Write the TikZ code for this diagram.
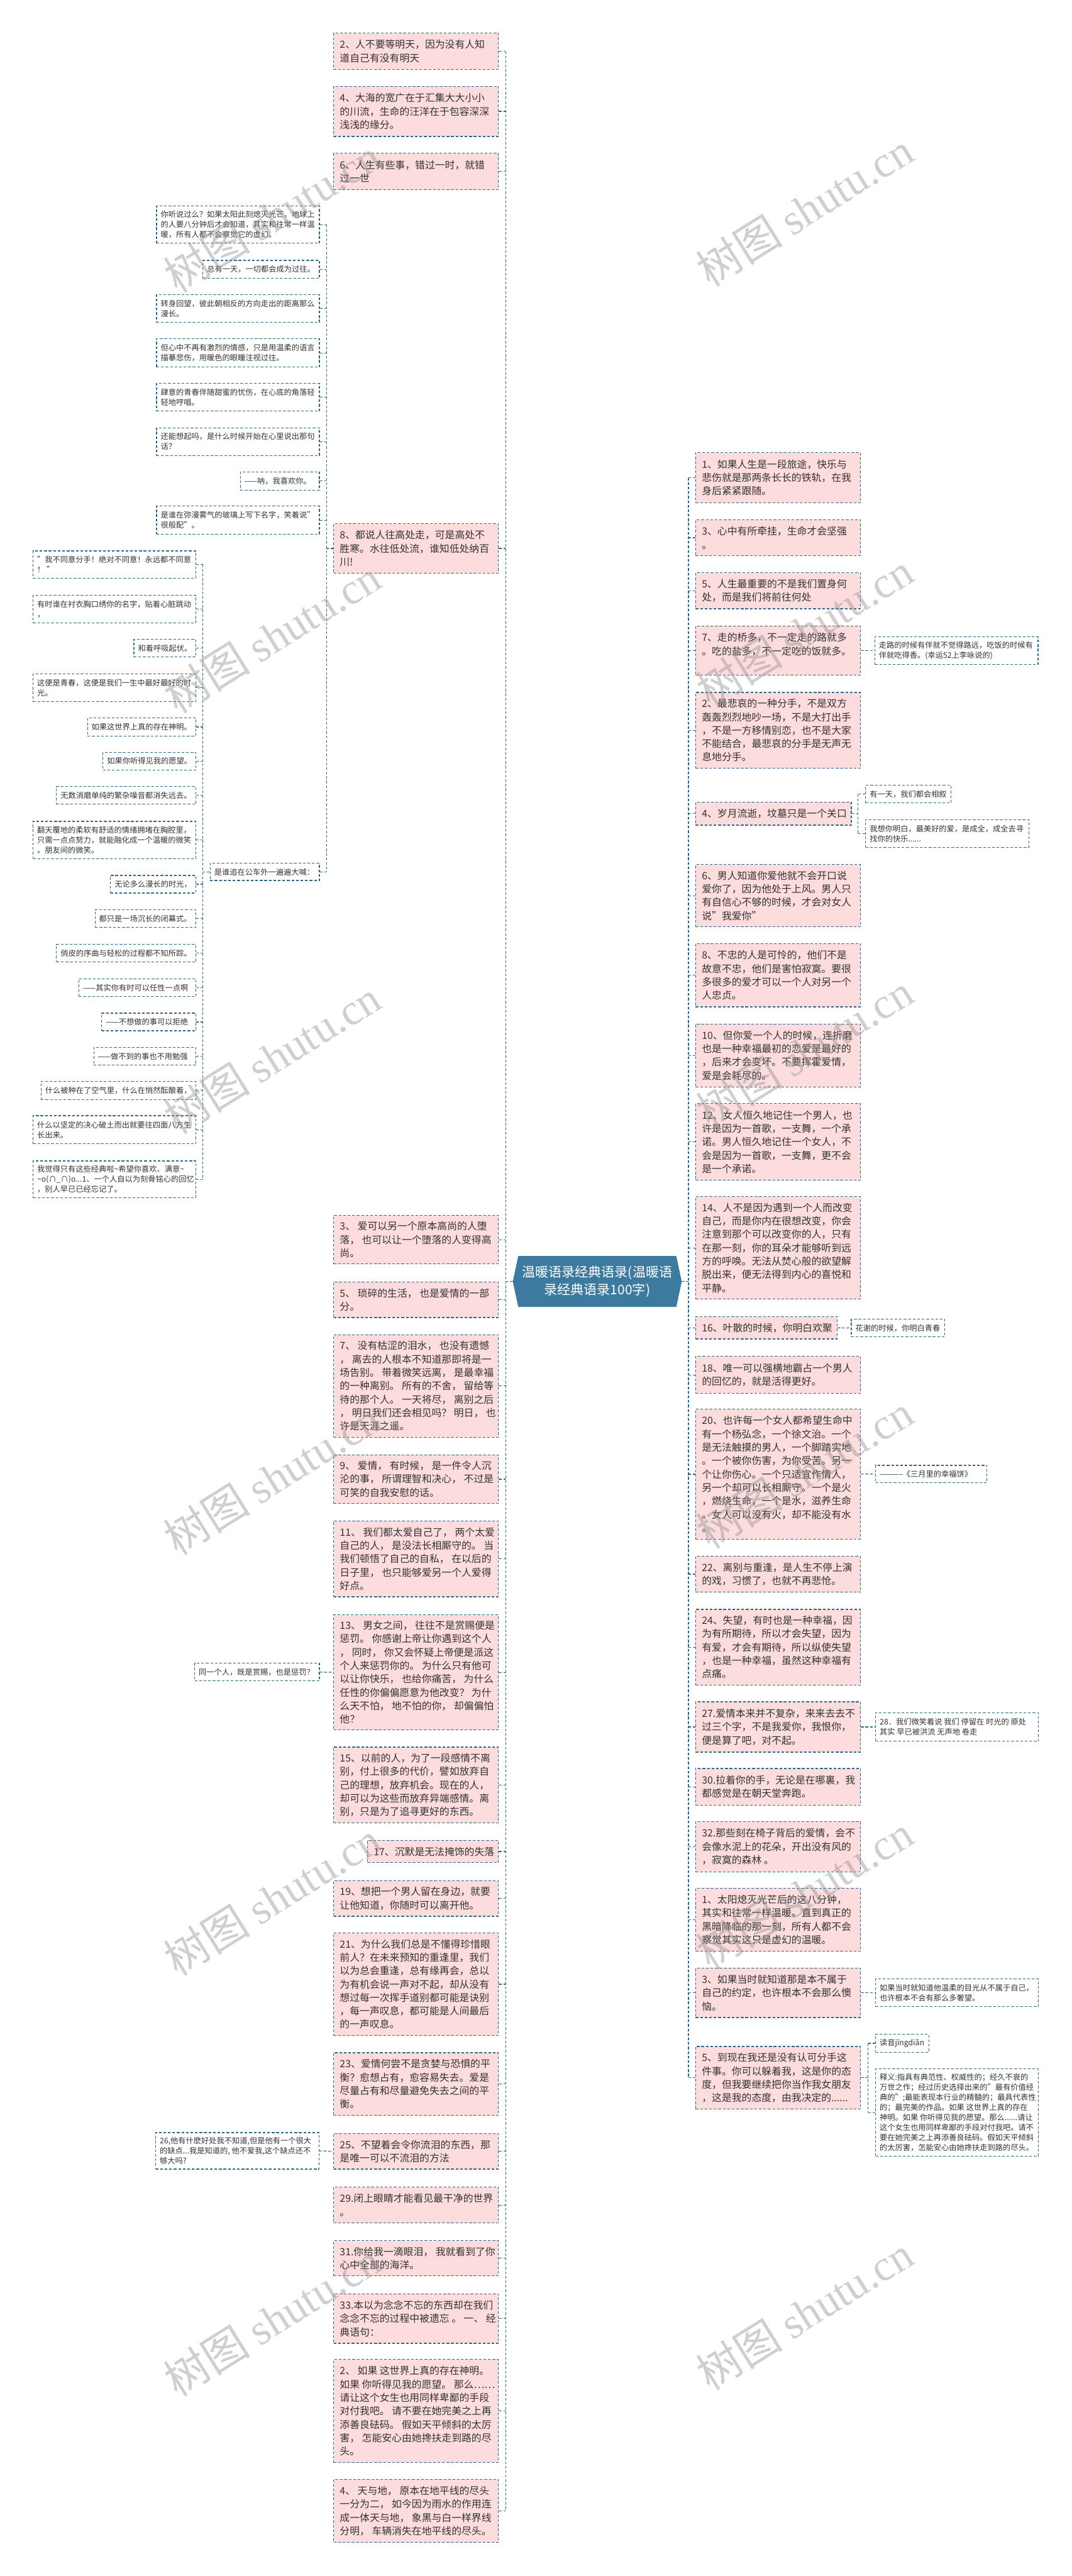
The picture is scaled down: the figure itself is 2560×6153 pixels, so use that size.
\documentclass[tikz,border=0pt]{standalone}
\usepackage{fontspec}
\setmainfont{Noto Sans CJK SC}
\newfontfamily\wmserif{Liberation Serif}
\usetikzlibrary{fit,calc}
\definecolor{bordc}{HTML}{2E698C}
\definecolor{pinkf}{HTML}{FCDCDC}
\definecolor{cblue}{HTML}{3D7AA0}
\definecolor{wmgray}{HTML}{969696}
\tikzset{
 dsh/.style={draw=bordc, line width=0.45pt, dash pattern=on 1.6pt off 1.1pt},
 pinkbox/.style={dsh, fill=pinkf, inner sep=0pt, rectangle},
 smallbox/.style={dsh, fill=white, inner sep=0pt, rectangle},
 ptext/.style={inner sep=0pt, align=left, anchor=west, text=black!80, font=\fontsize{5.95pt}{8pt}\selectfont},
 stext/.style={inner sep=0pt, align=left, anchor=west, text=black!80, font=\fontsize{4.6pt}{6pt}\selectfont},
 ctext/.style={inner sep=0pt, align=center, text=white, font=\fontsize{7.9pt}{10.5pt}\selectfont},
 conn/.style={dsh},
 wm/.style={text=wmgray, opacity=0.45, rotate=32, inner sep=0pt, font=\fontsize{26pt}{26pt}\selectfont},
}
\newcommand\mkP[6]{\node[pinkbox, fit={(#2,#3) (#4,#5)}] (#1) {};
  \node[ptext] (#1t) at ([xshift=3.75pt]#1.west) {#6};}
\newcommand\mkS[6]{\node[smallbox, fit={(#2,#3) (#4,#5)}] (#1) {};
  \node[stext] (#1t) at ([xshift=2.5pt]#1.west) {#6};}
\begin{document}
\begin{tikzpicture}[x=0.25pt,y=-0.25pt]
\useasboundingbox (0,0) rectangle (2560,6153);
\fill[white] (0,0) rectangle (2560,6153);
\coordinate (LT) at (1208,0);
\coordinate (RT) at (1645,0);
\coordinate (ST) at (780,0);
\coordinate (TT) at (485,0);
\coordinate (R4T) at (2050,0);
\coordinate (R5T) at (2074,0);

% center
\node[inner sep=0pt, fit={(1226,3001) (1628,3121)}] (C) {};
\fill[cblue] ($(C.north west)+(13,0)$) -- ($(C.north east)+(-13,0)$) -- (C.east) -- ($(C.south east)+(-13,0)$) -- ($(C.south west)+(13,0)$) -- (C.west) -- cycle;
\node[ctext] (Ct) at (C.center) {温暖语录经典语录(温暖语\\录经典语录100字)};

% left pink column
\mkP{L2}{797}{79}{1191}{166}{2、人不要等明天，因为没有人知\\道自己有没有明天}
\mkP{L4}{797}{206}{1191}{326}{4、大海的宽广在于汇集大大小小\\的川流，生命的汪洋在于包容深深\\浅浅的缘分。}
\mkP{L6}{797}{366}{1191}{453}{6、人生有些事，错过一时，就错\\过一世}
\mkP{L8}{797}{1251}{1191}{1369}{8、都说人往高处走，可是高处不\\胜寒。水往低处流，谁知低处纳百\\川!}
\mkP{L3}{797}{2903}{1191}{3019}{3、 爱可以另一个原本高尚的人堕\\落， 也可以让一个堕落的人变得高\\尚。}
\mkP{L5}{797}{3062}{1191}{3147}{5、 琐碎的生活， 也是爱情的一部\\分。}
\mkP{L7}{797}{3188}{1191}{3433}{7、 没有枯涩的泪水， 也没有遗憾\\， 离去的人根本不知道那即将是一\\场告别。 带着微笑远离， 是最幸福\\的一种离别。 所有的不舍， 留给等\\待的那个人。 一天将尽， 离别之后\\， 明日我们还会相见吗？ 明日， 也\\许是天涯之遥。}
\mkP{L9}{797}{3475}{1191}{3591}{9、 爱情， 有时候， 是一件令人沉\\沦的事， 所谓理智和决心， 不过是\\可笑的自我安慰的话。}
\mkP{L11}{797}{3633}{1191}{3814}{11、 我们都太爱自己了， 两个太爱\\自己的人， 是没法长相厮守的。 当\\我们顿悟了自己的自私， 在以后的\\日子里， 也只能够爱另一个人爱得\\好点。}
\mkP{L13}{797}{3857}{1191}{4132}{13、 男女之间， 往往不是赏赐便是\\惩罚。 你感谢上帝让你遇到这个人\\， 同时， 你又会怀疑上帝便是派这\\个人来惩罚你的。 为什么只有他可\\以让你快乐， 也给你痛苦， 为什么\\任性的你偏偏愿意为他改变？ 为什\\么天不怕， 地不怕的你， 却偏偏怕\\他？}
\mkP{L15}{797}{4173}{1191}{4354}{15、以前的人，为了一段感情不离\\别，付上很多的代价，譬如放弃自\\己的理想，放弃机会。现在的人，\\却可以为这些而放弃异端感情。离\\别，只是为了追寻更好的东西。}
\mkP{L17}{878}{4396}{1191}{4449}{17、沉默是无法掩饰的失落}
\mkP{L19}{797}{4492}{1191}{4577}{19、想把一个男人留在身边，就要\\让他知道，你随时可以离开他。}
\mkP{L21}{797}{4617}{1191}{4862}{21、为什么我们总是不懂得珍惜眼\\前人？在未来预知的重逢里，我们\\以为总会重逢，总有缘再会，总以\\为有机会说一声对不起，却从没有\\想过每一次挥手道别都可能是诀别\\，每一声叹息，都可能是人间最后\\的一声叹息。}
\mkP{L23}{797}{4903}{1191}{5053}{23、爱情何尝不是贪婪与恐惧的平\\衡？愈想占有，愈容易失去。爱是\\尽量占有和尽量避免失去之间的平\\衡。}
\mkP{L25}{797}{5096}{1191}{5181}{25、不望着会令你流泪的东西，那\\是唯一可以不流泪的方法}
\mkP{L29}{797}{5224}{1191}{5310}{29.闭上眼睛才能看见最干净的世界\\。}
\mkP{L31}{797}{5352}{1191}{5436}{31.你给我一滴眼泪， 我就看到了你\\心中全部的海洋。}
\mkP{L33}{797}{5479}{1191}{5597}{33.本以为念念不忘的东西却在我们\\念念不忘的过程中被遗忘 。 一、 经\\典语句：}
\mkP{L2b}{797}{5636}{1191}{5882}{2、 如果 这世界上真的存在神明。\\如果 你听得见我的愿望。 那么……\\请让这个女生也用同样卑鄙的手段\\对付我吧。 请不要在她完美之上再\\添善良砝码。 假如天平倾斜的太厉\\害， 怎能安心由她搀扶走到路的尽\\头。}
\mkP{L4b}{797}{5922}{1191}{6073}{4、 天与地， 原本在地平线的尽头\\一分为二， 如今因为雨水的作用连\\成一体天与地， 象黑与白一样界线\\分明， 车辆消失在地平线的尽头。}

% L8 group
\mkS{S1}{374}{492}{763}{581}{你听说过么？如果太阳此刻熄灭光芒，地球上\\的人要八分钟后才会知道，其实和往常一样温\\暖，所有人都不会察觉它的虚幻。}
\mkS{S2}{485}{622}{763}{665}{总有一天，一切都会成为过往。}
\mkS{S3}{374}{704}{763}{770}{转身回望，彼此朝相反的方向走出的距离那么\\漫长。}
\mkS{S4}{374}{809}{763}{877}{但心中不再有激烈的情感，只是用温柔的语言\\描摹悲伤，用暖色的眼瞳注视过往。}
\mkS{S5}{374}{916}{763}{982}{肆意的青春伴随甜蜜的忧伤，在心底的角落轻\\轻地哼唱。}
\mkS{S6}{374}{1022}{763}{1088}{还能想起吗，是什么时候开始在心里说出那句\\话？}
\mkS{S7}{574}{1127}{763}{1171}{——呐，我喜欢你。}
\mkS{S8}{374}{1209}{763}{1276}{是谁在弥漫雾气的玻璃上写下名字，笑着说"\\很般配"。}
\mkS{S9}{502}{2062}{763}{2103}{是谁追在公车外一遍遍大喊：}

% S9 group
\mkS{T1}{79}{1316}{468}{1381}{"我不同意分手！绝对不同意！永远都不同意\\！ "}
\mkS{T2}{79}{1422}{468}{1488}{有时谁在衬衣胸口绣你的名字，贴着心脏跳动\\，}
\mkS{T3}{320}{1527}{468}{1569}{和着呼吸起伏。}
\mkS{T4}{79}{1610}{468}{1676}{这便是青春，这便是我们一生中最好最好的时\\光。}
\mkS{T5}{209}{1715}{468}{1758}{如果这世界上真的存在神明。}
\mkS{T6}{246}{1797}{468}{1839}{如果你听得见我的愿望。}
\mkS{T7}{135}{1879}{468}{1921}{无数消磨单纯的繁杂噪音都消失远去。}
\mkS{T8}{79}{1962}{468}{2051}{翻天覆地的柔软有舒适的情绪拥堵在胸腔里，\\只需一点点努力，就能融化成一个温暖的微笑\\。朋友间的微笑。}
\mkS{T9}{264}{2091}{468}{2133}{无论多么漫长的时光，}
\mkS{T10}{227}{2173}{468}{2215}{都只是一场沉长的闭幕式。}
\mkS{T11}{135}{2256}{468}{2298}{俏皮的序曲与轻松的过程都不知所踪。}
\mkS{T12}{188}{2338}{468}{2380}{——其实你有时可以任性一点啊}
\mkS{T13}{243}{2420}{468}{2462}{——不想做的事可以拒绝}
\mkS{T14}{224}{2502}{468}{2544}{——做不到的事也不用勉强}
\mkS{T15}{98}{2583}{468}{2626}{什么被种在了空气里，什么在悄然酝酿着，}
\mkS{T16}{79}{2665}{468}{2732}{什么以坚定的决心破土而出就要往四面八方生\\长出来。}
\mkS{T17}{79}{2773}{468}{2861}{我觉得只有这些经典啦\textasciitilde 希望你喜欢、满意\textasciitilde\\\textasciitilde o(∩\_∩)o...1、一个人自以为刻骨铭心的回忆\\，别人早已已经忘记了。}

\mkS{U13}{465}{3973}{763}{4015}{同一个人，既是赏赐，也是惩罚？}
\mkS{U25}{372}{5094}{762}{5181}{26,他有什麽好处我不知道,但是他有一个很大\\的缺点...我是知道的, 他不爱我,这个缺点还不\\够大吗?}

% right pink column
\mkP{R1}{1662}{1081}{2056}{1201}{1、如果人生是一段旅途，快乐与\\悲伤就是那两条长长的铁轨，在我\\身后紧紧跟随。}
\mkP{R3}{1662}{1242}{2056}{1327}{3、心中有所牵挂，生命才会坚强\\。}
\mkP{R5}{1662}{1368}{2056}{1454}{5、人生最重要的不是我们置身何\\处，而是我们将前往何处}
\mkP{R7}{1662}{1495}{2056}{1613}{7、走的桥多，不一定走的路就多\\。吃的盐多，不一定吃的饭就多。\\\mbox{}}
\mkP{R2}{1662}{1654}{2056}{1835}{2、最悲哀的一种分手，不是双方\\轰轰烈烈地吵一场，不是大打出手\\，不是一方移情别恋，也不是大家\\不能结合，最悲哀的分手是无声无\\息地分手。}
\mkP{R4}{1662}{1916}{2034}{1971}{4、岁月流逝，坟墓只是一个关口}
\mkP{R6}{1662}{2065}{2056}{2214}{6、男人知道你爱他就不会开口说\\爱你了，因为他处于上风。男人只\\有自信心不够的时候，才会对女人\\说"我爱你"}
\mkP{R8}{1662}{2254}{2056}{2405}{8、不忠的人是可怜的，他们不是\\故意不忠，他们是害怕寂寞。要很\\多很多的爱才可以一个人对另一个\\人忠贞。}
\mkP{R10}{1662}{2446}{2056}{2596}{10、但你爱一个人的时候，连折磨\\也是一种幸福最初的恋爱是最好的\\，后来才会变坏。不要挥霍爱情，\\爱是会耗尽的。}
\mkP{R12}{1662}{2636}{2056}{2819}{12、女人恒久地记住一个男人，也\\许是因为一首歌，一支舞，一个承\\诺。男人恒久地记住一个女人，不\\会是因为一首歌，一支舞，更不会\\是一个承诺。}
\mkP{R14}{1662}{2858}{2056}{3103}{14、人不是因为遇到一个人而改变\\自己，而是你内在很想改变，你会\\注意到那个可以改变你的人，只有\\在那一刻，你的耳朵才能够听到远\\方的呼唤。无法从焚心般的欲望解\\脱出来，便无法得到内心的喜悦和\\平静。}
\mkP{R16}{1662}{3145}{2000}{3198}{16、叶散的时候，你明白欢聚}
\mkP{R18}{1662}{3240}{2056}{3328}{18、唯一可以强横地霸占一个男人\\的回忆的，就是活得更好。}
\mkP{R20}{1662}{3366}{2056}{3676}{20、也许每一个女人都希望生命中\\有一个杨弘念，一个徐文治。一个\\是无法触摸的男人，一个脚踏实地\\。一个被你伤害，为你受苦。另一\\个让你伤心。一个只适宜作情人，\\另一个却可以长相厮守。一个是火\\，燃烧生命，一个是水，滋养生命\\。女人可以没有火，却不能没有水\\。}
\mkP{R22}{1662}{3717}{2056}{3803}{22、离别与重逢，是人生不停上演\\的戏，习惯了，也就不再悲怆。}
\mkP{R24}{1662}{3844}{2056}{4025}{24、失望，有时也是一种幸福，因\\为有所期待，所以才会失望，因为\\有爱，才会有期待，所以纵使失望\\，也是一种幸福，虽然这种幸福有\\点痛。}
\mkP{R27}{1662}{4065}{2056}{4185}{27.爱情本来并不复杂，来来去去不\\过三个字，不是我爱你，我恨你，\\便是算了吧，对不起。}
\mkP{R30}{1662}{4224}{2056}{4312}{30.拉着你的手，无论是在哪裏，我\\都感觉是在朝天堂奔跑。}
\mkP{R32}{1662}{4351}{2056}{4471}{32.那些刻在椅子背后的爱情，会不\\会像水泥上的花朵，开出没有风的\\，寂寞的森林 。}
\mkP{R1b}{1662}{4510}{2056}{4661}{1、太阳熄灭光芒后的这八分钟，\\其实和往常一样温暖。直到真正的\\黑暗降临的那一刻，所有人都不会\\察觉其实这只是虚幻的温暖。}
\mkP{R3b}{1662}{4701}{2056}{4819}{3、如果当时就知道那是本不属于\\自己的约定，也许根本不会那么懊\\恼。}
\mkP{R5b}{1662}{4888}{2056}{5038}{5、到现在我还是没有认可分手这\\件事。你可以躲着我，这是你的态\\度，但我要继续把你当作我女朋友\\，这是我的态度，由我决定的......}

% right small nodes
\mkS{V7}{2090}{1521}{2480}{1587}{走路的时候有伴就不觉得路远，吃饭的时候有\\伴就吃得香。(幸运52上李咏说的)}
\mkS{V4a}{2068}{1876}{2272}{1918}{有一天，我们都会相叙}
\mkS{V4b}{2068}{1958}{2458}{2024}{我想你明白，最美好的爱，是成全，成全去寻\\找你的快乐......}
\mkS{V16}{2034}{3151}{2257}{3193}{花谢的时候，你明白青春}
\mkS{V20}{2092}{3500}{2358}{3541}{-----------《三月里的幸福饼》}
\mkS{V27}{2092}{4091}{2481}{4159}{28．我们微笑着说 我们 停留在 时光的 原处\\其实 早已被洪流 无声地 卷走}
\mkS{V3b}{2092}{4727}{2481}{4793}{如果当时就知道他温柔的目光从不属于自己，\\也许根本不会有那么多奢望。}
\mkS{V5a}{2092}{4859}{2219}{4902}{读音jīngdiǎn}
\mkS{V5b}{2092}{4942}{2481}{5150}{释义:指具有典范性、权威性的；经久不衰的\\万世之作；经过历史选择出来的"最有价值经\\典的";最能表现本行业的精髓的；最具代表性\\的；最完美的作品。如果 这世界上真的存在\\神明。如果 你听得见我的愿望。那么......请让\\这个女生也用同样卑鄙的手段对付我吧。请不\\要在她完美之上再添善良砝码。假如天平倾斜\\的太厉害，怎能安心由她搀扶走到路的尽头。}

% connectors: left trunk
\foreach \n in {L2,L4,L6,L8,L3,L5,L7,L9,L11,L13,L15,L17,L19,L21,L23,L25,L29,L31,L33,L2b,L4b}
  \draw[conn] (\n.east) -- (\n.east -| LT);
\draw[conn] (L2.east -| LT) -- (L4b.east -| LT);
\draw[conn] (C.west) -- (C.west -| LT);
% right trunk
\foreach \n in {R1,R3,R5,R7,R2,R4,R6,R8,R10,R12,R14,R16,R18,R20,R22,R24,R27,R30,R32,R1b,R3b,R5b}
  \draw[conn] (\n.west) -- (\n.west -| RT);
\draw[conn] (R1.west -| RT) -- (R5b.west -| RT);
\draw[conn] (C.east) -- (C.east -| RT);
% L8 group
\foreach \n in {S1,S2,S3,S4,S5,S6,S7,S8,S9}
  \draw[conn] (\n.east) -- (\n.east -| ST);
\draw[conn] (L8.west) -- (L8.west -| ST);
\draw[conn] (S1.east -| ST) -- (S9.east -| ST);
% S9 group
\foreach \n in {T1,T2,T3,T4,T5,T6,T7,T8,T9,T10,T11,T12,T13,T14,T15,T16,T17}
  \draw[conn] (\n.east) -- (\n.east -| TT);
\draw[conn] (S9.west) -- (S9.west -| TT);
\draw[conn] (T1.east -| TT) -- (T17.east -| TT);
% single children
\draw[conn] (U13.east) -- (L13.west);
\draw[conn] (U25.east) -- (L25.west);
\draw[conn] (R7.east) -- (V7.west);
\draw[conn] (R16.east) -- (V16.west);
\draw[conn] (R20.east) -- (V20.west);
\draw[conn] (R27.east) -- (V27.west);
\draw[conn] (R3b.east) -- (V3b.west);
% R4 group
\draw[conn] (R4.east) -- (R4.east -| R4T);
\draw[conn] (V4a.west) -- (V4a.west -| R4T);
\draw[conn] (V4b.west) -- (V4b.west -| R4T);
\draw[conn] (V4a.west -| R4T) -- (V4b.west -| R4T);
% R5b group
\draw[conn] (R5b.east) -- (R5b.east -| R5T);
\draw[conn] (V5a.west) -- (V5a.west -| R5T);
\draw[conn] (V5b.west) -- (V5b.west -| R5T);
\draw[conn] (V5a.west -| R5T) -- (V5b.west -| R5T);

% watermarks
\foreach \k in {0,...,5} {
  \node[wm] (wl\k) at (650,515+1005*\k) {树图 {\wmserif shutu.cn}};
  \node[wm] (wr\k) at (1922,500+1005*\k) {树图 {\wmserif shutu.cn}};
}
\end{tikzpicture}
\end{document}
